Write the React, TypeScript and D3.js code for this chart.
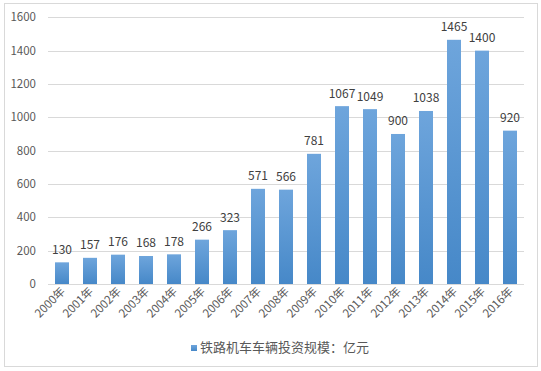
import React from "react";
import * as d3 from "d3";

const years = ["2000年", "2001年", "2002年", "2003年", "2004年", "2005年", "2006年", "2007年", "2008年", "2009年", "2010年", "2011年", "2012年", "2013年", "2014年", "2015年", "2016年"];
const values = [130, 157, 176, 168, 178, 266, 323, 571, 566, 781, 1067, 1049, 900, 1038, 1465, 1400, 920];
const yTicks = [0, 200, 400, 600, 800, 1000, 1200, 1400, 1600];
const seriesName = "铁路机车车辆投资规模：亿元";

const W = 541;
const H = 371;
const font = "'Microsoft YaHei', 'Noto Sans CJK SC', 'DejaVu Sans', sans-serif";

export default function App() {
  const x = d3.scaleBand<string>().domain(years).range([48, 524]).paddingInner(0.5).paddingOuter(0.25);
  const y = d3.scaleLinear().domain([0, 1600]).range([284, 17.3]);

  return (
    <svg width={W} height={H} style={{ position: "absolute", left: 0, top: 0 }}>
      <defs>
        <linearGradient id="barGrad" x1="0" y1="0" x2="0" y2="1">
          <stop offset="0" stopColor="#6ea5dc" />
          <stop offset="1" stopColor="#4688c8" />
        </linearGradient>
      </defs>
      <rect x={0} y={0} width={W} height={H} fill="#fff" />
      <rect x={4.5} y={3.5} width={533} height={363} fill="#fff" stroke="#d9d9d9" />

      {/* gridlines + y labels */}
      {yTicks.map((t) => (
        <g key={t}>
          <line x1={48} x2={524} y1={Math.round(y(t)) + 0.5} y2={Math.round(y(t)) + 0.5} stroke="#d9d9d9" />
          <text x={36} y={y(t) + 4} textAnchor="end" fontSize={11.5} fill="#595959" fontFamily={font}>{t}</text>
        </g>
      ))}

      {/* bars */}
      {years.map((yr, i) => (
        <g key={yr}>
          <rect x={x(yr)} y={y(values[i])} width={x.bandwidth()} height={y(0) - y(values[i])} fill="url(#barGrad)" />
          <text x={(x(yr) ?? 0) + x.bandwidth() / 2} y={y(values[i]) - 8.5} textAnchor="middle" fontSize={12} fill="#404040" fontFamily={font}>{values[i]}</text>
          <text
            transform={`translate(${(x(yr) ?? 0) + x.bandwidth() / 2 + 4},${292}) rotate(-45)`}
            textAnchor="end"
            fontSize={11.5}
            fill="#595959"
            fontFamily={font}
          >{yr}</text>
        </g>
      ))}

      {/* legend */}
      <rect x={191} y={345} width={6} height={6} fill="url(#barGrad)" />
      <text x={200} y={352} fontSize={13} fill="#595959" fontFamily={font}>{seriesName}</text>
    </svg>
  );
}
